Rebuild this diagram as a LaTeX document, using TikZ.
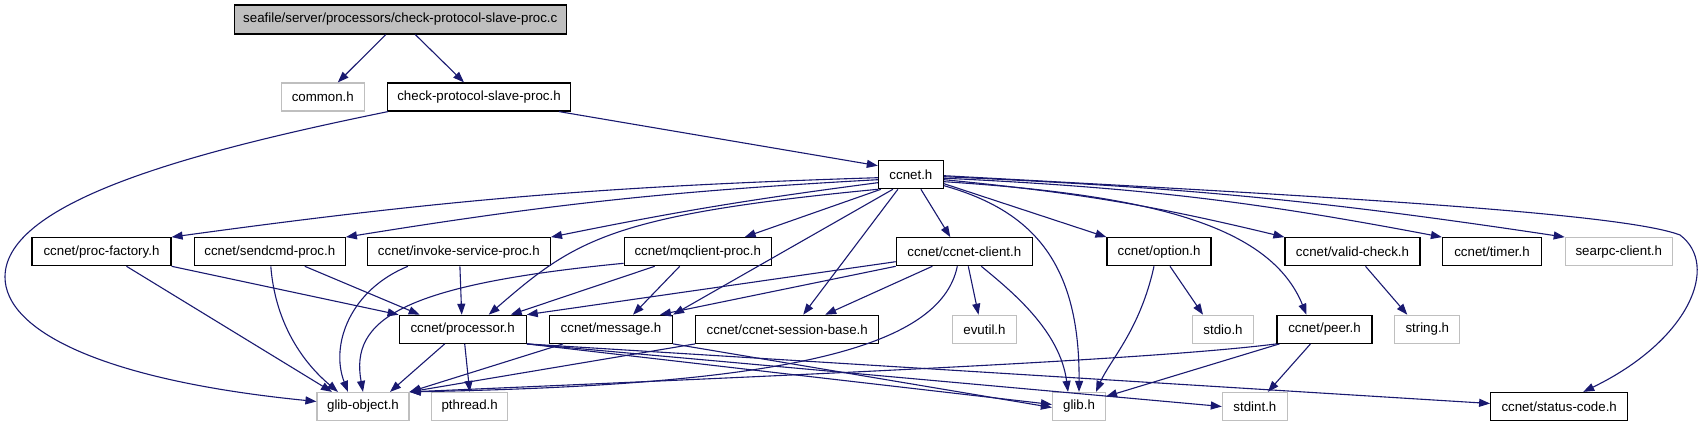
\documentclass[tikz,border=0pt]{standalone}
\usepackage{fontspec}
\setmainfont{Liberation Sans}
\usetikzlibrary{arrows.meta}

\definecolor{edgeblue}{HTML}{191970}
\definecolor{extgray}{HTML}{BFBFBF}

\begin{document}
\begin{tikzpicture}[x=1pt, y=-1pt,
  hdr/.style={draw=black, line width=1.2pt, minimum height=28pt, inner sep=0pt,
    font=\fontsize{13.3pt}{15pt}\selectfont},
  ext/.style={hdr, draw=extgray},
  inc/.style={draw=edgeblue, line width=1.1pt, -{Triangle[length=11pt,width=8pt]}}]
  \useasboundingbox (0,0) rectangle (1703,427);

  % rows of headers, top to bottom
  \node[hdr, fill=extgray, minimum width=332pt, minimum height=29pt] (root) at (400.3,19.5) {seafile/server/processors/check-protocol-slave-proc.c};
  \node[ext, minimum width=83pt] (common) at (322.8,97) {common.h};
  \node[hdr, minimum width=182.5pt] (cpsp) at (479,97) {check-protocol-slave-proc.h};
  \node[hdr, minimum width=65pt] (ccnet) at (910.9,174.7) {ccnet.h};

  \node[hdr, minimum width=139pt] (procfac) at (101.5,251.7) {ccnet/proc-factory.h};
  \node[hdr, minimum width=151pt] (sendcmd) at (269.8,251.7) {ccnet/sendcmd-proc.h};
  \node[hdr, minimum width=183pt] (invoke) at (458.9,251.7) {ccnet/invoke-service-proc.h};
  \node[hdr, minimum width=147pt] (mqclient) at (697.7,251.7) {ccnet/mqclient-proc.h};
  \node[hdr, minimum width=136pt] (client) at (964.3,251.7) {ccnet/ccnet-client.h};
  \node[hdr, minimum width=104pt] (option) at (1159,251.7) {ccnet/option.h};
  \node[hdr, minimum width=135pt] (valid) at (1352.5,251.7) {ccnet/valid-check.h};
  \node[hdr, minimum width=99pt] (timer) at (1492,251.7) {ccnet/timer.h};
  \node[ext, minimum width=107pt] (searpc) at (1618.8,251.7) {searpc-client.h};

  \node[hdr, minimum width=127pt] (processor) at (462.7,329.3) {ccnet/processor.h};
  \node[hdr, minimum width=123pt] (message) at (611,329.3) {ccnet/message.h};
  \node[hdr, minimum width=183pt] (session) at (787.2,329.3) {ccnet/ccnet-session-base.h};
  \node[ext, minimum width=64pt] (evutil) at (984.5,329.3) {evutil.h};
  \node[ext, minimum width=61pt] (stdio) at (1223,329.3) {stdio.h};
  \node[hdr, minimum width=95pt] (peer) at (1324.5,329.3) {ccnet/peer.h};
  \node[ext, minimum width=65pt] (string) at (1427.3,329.3) {string.h};

  \node[ext, minimum width=92pt] (globj) at (363,406.5) {glib-object.h};
  \node[ext, minimum width=76pt] (pthread) at (469.7,406.5) {pthread.h};
  \node[ext, minimum width=53pt] (glib) at (1079,406.5) {glib.h};
  \node[ext, minimum width=65pt] (stdint) at (1254.9,406.5) {stdint.h};
  \node[hdr, minimum width=137pt] (status) at (1559.2,406.5) {ccnet/status-code.h};

  % source file and its direct includes
  \draw[inc] ([xshift=-14.5pt]root.south) -- ([xshift=15pt]common.north);
  \draw[inc] ([xshift=15pt]root.south) -- ([xshift=-15pt]cpsp.north);
  \draw[inc] ([xshift=80pt]cpsp.south) -- ([yshift=9pt]ccnet.west);
  \draw[inc] ([xshift=-91pt]cpsp.south) .. controls (200,150) and (5,200) .. (5,277)
    .. controls (5,330) and (100,380) .. ([yshift=5pt]globj.west);

  % ccnet.h
  \draw[inc] ([yshift=-3pt]ccnet.west) to[bend right=3] (procfac.north east);
  \draw[inc] ([yshift=-5pt]ccnet.west) to[bend right=3] (sendcmd.north east);
  \draw[inc] ([yshift=-8pt]ccnet.west) to[bend right=2] (invoke.north east);
  \draw[inc] (ccnet.south west) .. controls (610,215) and (575,240) .. ([xshift=26pt]processor.north);
  \draw[inc] ([xshift=-30pt]ccnet.south) -- ([xshift=47pt]mqclient.north);
  \draw[inc] ([xshift=-18pt]ccnet.south) -- (message.north east);
  \draw[inc] ([xshift=-13pt]ccnet.south) -- ([xshift=16pt]session.north);
  \draw[inc] ([xshift=10pt]ccnet.south) -- ([xshift=-14pt]client.north);
  \draw[inc] ([yshift=-11pt]ccnet.east) .. controls (1030,210) and (1080,260) .. (glib.north);
  \draw[inc] ([yshift=-9pt]ccnet.east) -- (option.north west);
  \draw[inc] ([yshift=-7pt]ccnet.east) .. controls (1150,195) and (1270,225) .. ([xshift=-18pt]peer.north);
  \draw[inc] ([yshift=-5pt]ccnet.east) to[bend left=4] (valid.north west);
  \draw[inc] ([yshift=-3.5pt]ccnet.east) to[bend left=4] (timer.north west);
  \draw[inc] ([yshift=-2pt]ccnet.east) to[bend left=3] (searpc.north west);
  \draw[inc] ([yshift=-1pt]ccnet.east) .. controls (1300,195) and (1620,212) .. (1680,235)
    .. controls (1720,265) and (1690,340) .. ([xshift=24pt]status.north);

  % second level
  \draw[inc] (procfac.south east) -- (processor.north west);
  \draw[inc] ([xshift=25pt]procfac.south) -- ([xshift=-31pt]globj.north);
  \draw[inc] ([xshift=35pt]sendcmd.south) -- ([xshift=-43pt]processor.north);
  \draw[inc] ([xshift=1pt]sendcmd.south) .. controls (275,320) and (300,360) .. ([xshift=-25pt]globj.north);
  \draw[inc] ([xshift=1pt]invoke.south) -- ([xshift=-1pt]processor.north);
  \draw[inc] ([xshift=-51pt]invoke.south) .. controls (350,290) and (330,345) .. ([xshift=-15pt]globj.north);
  \draw[inc] ([xshift=-43pt]mqclient.south) -- ([xshift=48pt]processor.north);
  \draw[inc] ([xshift=-18pt]mqclient.south) -- ([xshift=22pt]message.north);
  \draw[inc] ([yshift=3pt]mqclient.south west) .. controls (400,285) and (350,320) .. (globj.north);
  \draw[inc] ([yshift=-10pt]client.west) -- (processor.north east);
  \draw[inc] (client.south west) -- ([xshift=49pt]message.north);
  \draw[inc] ([xshift=-32pt]client.south) -- ([xshift=38pt]session.north);
  \draw[inc] ([xshift=-7pt]client.south) .. controls (940,350) and (780,385) .. (globj.north east);
  \draw[inc] ([xshift=4pt]client.south) -- ([xshift=-6pt]evutil.north);
  \draw[inc] ([xshift=17pt]client.south) .. controls (1010,290) and (1060,330) .. ([xshift=-11pt]glib.north);
  \draw[inc] ([xshift=-5pt]option.south) .. controls (1140,330) and (1110,360) .. ([xshift=17pt]glib.north);
  \draw[inc] ([xshift=11pt]option.south) -- ([xshift=-20pt]stdio.north);
  \draw[inc] ([xshift=13pt]valid.south) -- ([xshift=-20pt]string.north);

  % third level
  \draw[inc] (peer.south west) .. controls (1150,360) and (800,375) .. (globj.north east);
  \draw[inc] ([xshift=3pt]peer.south west) -- ([yshift=10pt]glib.east);
  \draw[inc] ([xshift=-14pt]peer.south) -- ([xshift=13pt]stdint.north);
  \draw[inc] ([xshift=-18pt]processor.south) -- ([xshift=27pt]globj.north);
  \draw[inc] ([xshift=2pt]processor.south) -- (pthread.north);
  \draw[inc] (processor.south east) -- ([yshift=2pt]glib.west);
  \draw[inc] (processor.south east) -- (stdint.west);
  \draw[inc] (processor.south east) -- ([yshift=3pt]status.west);
  \draw[inc] ([xshift=-48pt]message.south) -- (globj.north east);
  \draw[inc] (message.south east) -- ([yshift=-1pt]glib.west);
  \draw[inc] (session.south west) -- (globj.north east);
\end{tikzpicture}
\end{document}
